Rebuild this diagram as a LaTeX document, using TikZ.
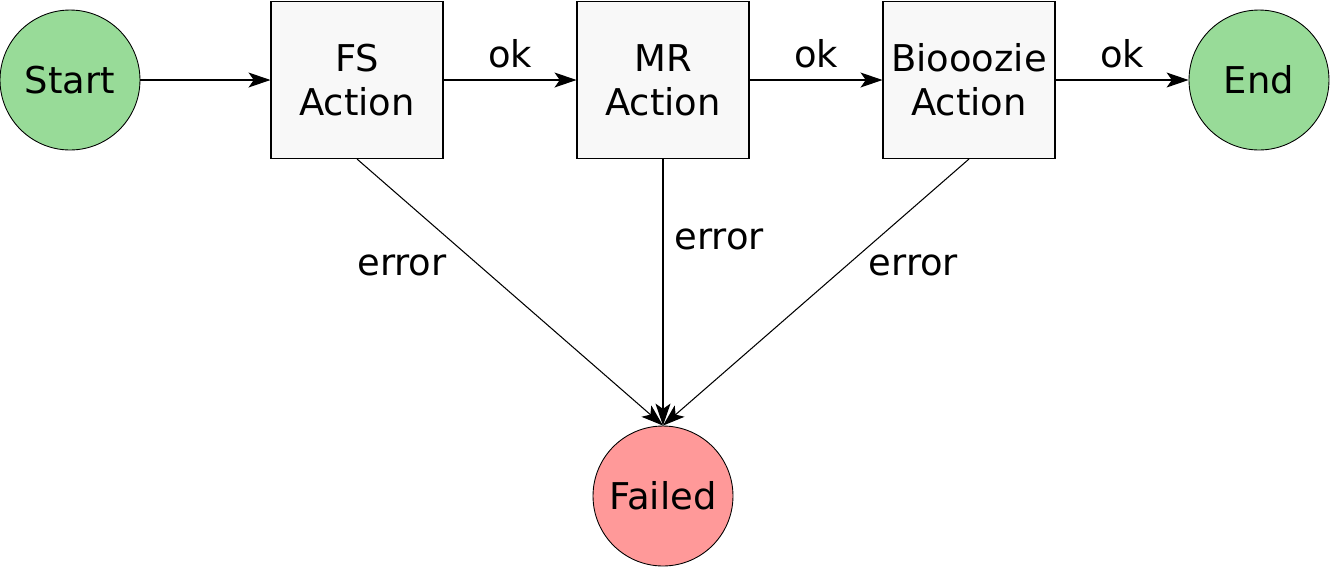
\documentclass[tikz,border=0pt]{standalone}
\usepackage{fontspec}
\setmainfont{DejaVu Sans}
\usetikzlibrary{arrows.meta}
\definecolor{StartGreen}{RGB}{152,219,152}
\definecolor{FailRed}{RGB}{255,153,153}
\definecolor{BoxGrey}{RGB}{248,248,248}
\begin{document}
\begin{tikzpicture}[x=0.02cm, y=-0.02cm,
		Pfeil/.style={arrows = -{Stealth[length=12.5pt, width=8.5pt, inset=3pt]}, line width=0.6pt},
		Kreis/.style={draw, circle, minimum size=2.8cm, inner sep=0pt, line width=0.5pt},
		Aktion/.style={draw, fill=BoxGrey, minimum width=3.44cm, minimum height=3.14cm, align=center, line width=0.6pt},
		every node/.style={font=\fontsize{21}{25}\selectfont}]
				\useasboundingbox (0,0) rectangle (1330,566);
				\node (start) at (70,80) [Kreis, fill=StartGreen] {Start};
				\node (fs) at (357,80) [Aktion] {FS\\Action};
				\node (mr) at (663,80) [Aktion] {MR\\Action};
				\node (bio) at (969,80) [Aktion] {Biooozie\\Action};
				\node (end) at (1259,80) [Kreis, fill=StartGreen] {End};
				\node (failed) at (663,496) [Kreis, fill=FailRed] {Failed};
				\draw[Pfeil] (start) to (fs);
				\draw[Pfeil] (fs) to node[above=3pt]{ok} (mr);
				\draw[Pfeil] (mr) to node[above=3pt]{ok} (bio);
				\draw[Pfeil] (bio) to node[above=3pt]{ok} (end);
				\draw[Pfeil] (fs.south) to node[pos=0.4, left=15pt]{error} (failed.north);
				\draw[Pfeil] (mr.south) to node[pos=0.3, right=3pt]{error} (failed.north);
				\draw[Pfeil] (bio.south) to node[pos=0.4, right=9pt]{error} (failed.north);
			\end{tikzpicture}
\end{document}
